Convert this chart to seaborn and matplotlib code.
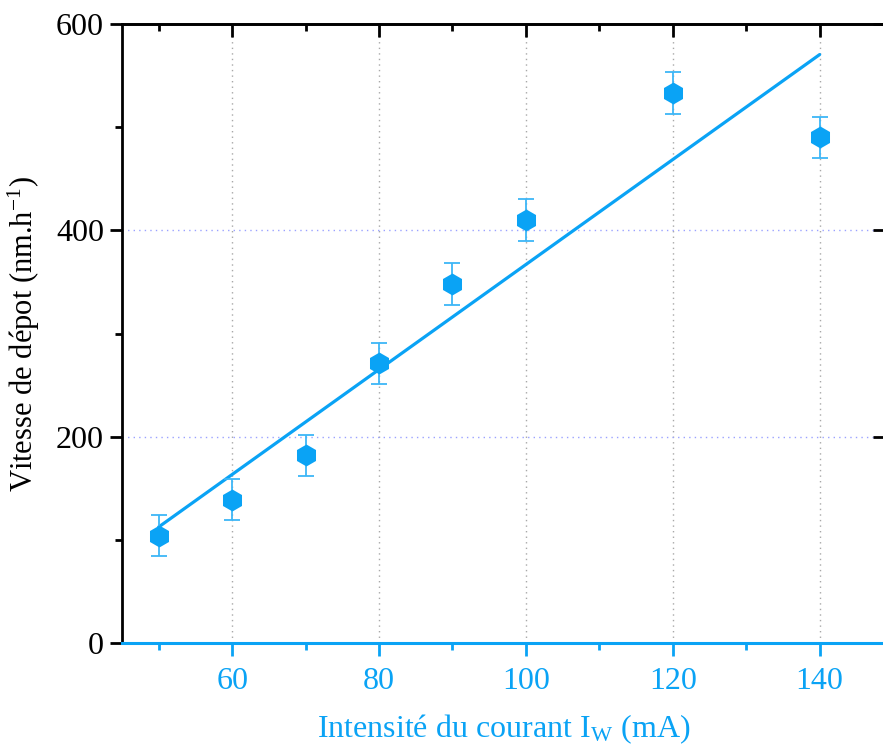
import numpy as np
import pandas as pd
import matplotlib
matplotlib.use('Agg')
import matplotlib.pyplot as plt
import seaborn as sns
from matplotlib.ticker import MultipleLocator, NullLocator

# Data
courant = [50, 60, 70, 80, 90, 100, 120, 140]
vitesse = [104, 139, 182, 271, 348, 410, 533, 490]
erreur = [20, 20, 20, 20, 20, 20, 20, 20]

df = pd.DataFrame({'courant': courant, 'vitesse': vitesse, 'erreur': erreur})

sns.set_style('ticks')
plt.rcParams['font.family'] = ['Liberation Serif', 'DejaVu Serif']
plt.rcParams['mathtext.fontset'] = 'stix'

blue = '#0aa3f5'
blue_err = '#3db6f7'

fig = plt.figure(figsize=(8.83, 7.51), dpi=100)
ax = fig.add_axes([122 / 883, (751 - 643) / 751, (885 - 122) / 883, (643 - 24) / 751])

# Fit line
sns.regplot(data=df, x='courant', y='vitesse', ci=None, scatter=False,
            line_kws={'color': blue, 'lw': 2.3}, ax=ax)

# Error bars
ax.errorbar(df['courant'], df['vitesse'], yerr=df['erreur'], fmt='none',
            ecolor=blue_err, elinewidth=1.3, capsize=6, capthick=1.3, zorder=3)

# Points
sns.scatterplot(data=df, x='courant', y='vitesse', marker='h', s=250,
                color=blue, edgecolor=blue, linewidth=0, ax=ax, zorder=4)

ax.set_xlim(45, 148.9)
ax.set_ylim(0, 600)
ax.xaxis.set_major_locator(MultipleLocator(20))
ax.xaxis.set_minor_locator(MultipleLocator(10))
ax.yaxis.set_major_locator(MultipleLocator(200))
ax.yaxis.set_minor_locator(MultipleLocator(100))

# Grid
for x in [60, 80, 100, 120, 140]:
    ax.axvline(x, color='#a8a8a8', lw=1, ls=(0, (1, 3)), zorder=0)
for y in [200, 400]:
    ax.axhline(y, color='#9aa2ff', lw=1, ls=(0, (1, 3)), zorder=0)

for side in ['left', 'top', 'right']:
    ax.spines[side].set_color('black')
    ax.spines[side].set_linewidth(2)
ax.spines['bottom'].set_color(blue)
ax.spines['bottom'].set_linewidth(2.2)

ax.tick_params(axis='x', which='both', direction='out', colors=blue,
               labelsize=23, width=2, top=False)
ax.tick_params(axis='x', which='major', length=9, pad=8)
ax.tick_params(axis='x', which='minor', length=5)
ax.tick_params(axis='y', which='both', direction='out', colors='black',
               labelsize=23, width=2, right=False)
ax.tick_params(axis='y', which='major', length=9, pad=4)
ax.tick_params(axis='y', which='minor', length=5)

# Top ticks: inward, black
top = ax.secondary_xaxis('top')
top.xaxis.set_major_locator(MultipleLocator(20))
top.xaxis.set_minor_locator(MultipleLocator(10))
top.tick_params(which='both', direction='in', colors='black', width=2, labeltop=False)
top.tick_params(which='major', length=9)
top.tick_params(which='minor', length=5)
top.spines['top'].set_linewidth(2)

# Right ticks: inward, black, majors only
right = ax.secondary_yaxis('right')
right.yaxis.set_major_locator(MultipleLocator(200))
right.yaxis.set_minor_locator(NullLocator())
right.tick_params(which='both', direction='in', colors='black', width=2,
                  length=9, labelright=False)

ax.set_xlabel('Intensité du courant I$_{\\mathregular{W}}$ (mA)', fontsize=23,
              color=blue, labelpad=12)
ax.set_ylabel('Vitesse de dépot (nm.h$^{\\mathregular{-1}}$)', fontsize=22,
              color='black', labelpad=10)

fig.savefig('out.png', dpi=100)
